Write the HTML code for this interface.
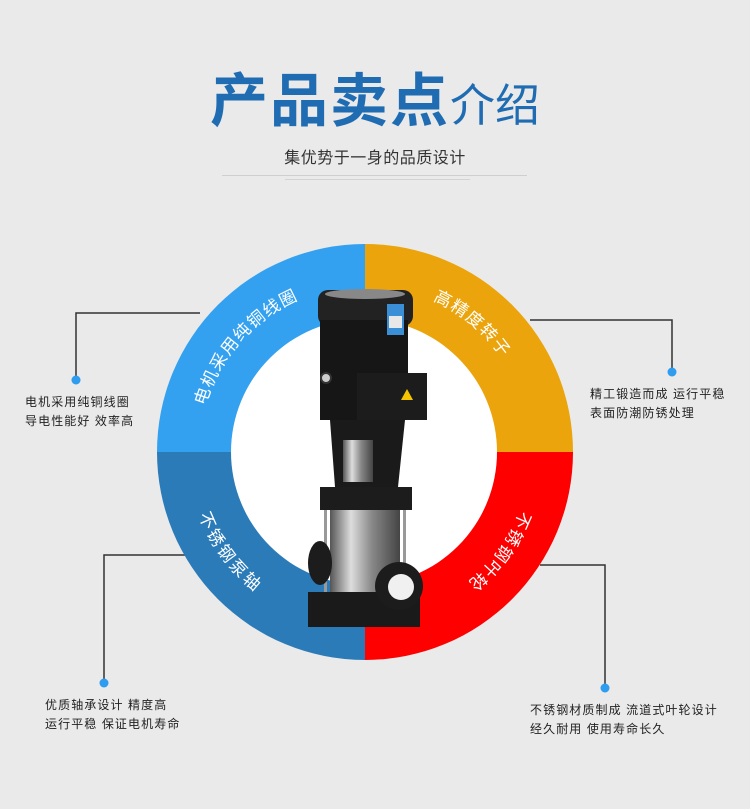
<!DOCTYPE html>
<html><head><meta charset="utf-8"><style>
html,body{margin:0;padding:0}
body{width:750px;height:809px;background:#eaeaea;position:relative;overflow:hidden;font-family:"Liberation Sans","Noto Sans CJK SC",sans-serif}
.t{position:absolute;font-size:12px;letter-spacing:1.1px;line-height:19px;color:#222;white-space:nowrap}
</style></head><body>
<div style="position:absolute;left:0;top:62px;width:750px;text-align:center;color:#1f6cb2;white-space:nowrap;line-height:80px">
<span style="font-size:58px;font-weight:bold;letter-spacing:2px">产品卖点</span><span style="font-size:45px">介绍</span>
</div>
<div style="position:absolute;left:0;top:144px;width:750px;text-align:center;font-size:16px;color:#333;letter-spacing:0.5px">集优势于一身的品质设计</div>
<div style="position:absolute;left:222px;top:175px;width:305px;height:1px;background:#cfcfcf"></div>
<div style="position:absolute;left:285px;top:179px;width:185px;height:1px;background:#d3d3d3"></div>

<svg width="750" height="809" style="position:absolute;left:0;top:0">
<defs>
<path id="p1" d="M201.9,506.6 A172,172 0 0 1 399.3,283.4"/>
<path id="p2" d="M306.2,290.3 A172,172 0 0 1 534.4,481.9"/>
<path id="p3" d="M522.7,383.4 A172,172 0 0 1 345.5,622.8"/>
<path id="p4" d="M207.3,383.4 A172,172 0 0 0 384.5,622.8"/>
<linearGradient id="ss" x1="0" x2="1"><stop offset="0" stop-color="#555"/><stop offset="0.3" stop-color="#ddd"/><stop offset="0.6" stop-color="#888"/><stop offset="1" stop-color="#444"/></linearGradient>
</defs>
<!-- connectors -->
<g stroke="#333" stroke-width="1.5" fill="none">
<polyline points="200,313 76,313 76,378"/>
<polyline points="530,320 672,320 672,370"/>
<polyline points="190,555 104,555 104,681"/>
<polyline points="540,565 605,565 605,686"/>
</g>
<g fill="#2e9cef">
<circle cx="76" cy="380" r="4.5"/><circle cx="672" cy="372" r="4.5"/>
<circle cx="104" cy="683" r="4.5"/><circle cx="605" cy="688" r="4.5"/>
</g>
<!-- ring -->
<path d="M365,452 L157,452 A208,208 0 0 1 365,244 Z" fill="#33a1f0"/>
<path d="M365,452 L365,244 A208,208 0 0 1 573,452 Z" fill="#eba40b"/>
<path d="M365,452 L573,452 A208,208 0 0 1 365,660 Z" fill="#fe0000"/>
<path d="M365,452 L365,660 A208,208 0 0 1 157,452 Z" fill="#2b7bb9"/>
<circle cx="364" cy="452" r="133" fill="#fff"/>
<g fill="#fff" font-size="17" dominant-baseline="central" text-anchor="middle" letter-spacing="2" font-family="Liberation Sans,Noto Sans CJK SC,sans-serif">
<text><textPath href="#p1" startOffset="50%">电机采用纯铜线圈</textPath></text>
<text><textPath href="#p2" startOffset="50%">高精度转子</textPath></text>
<text><textPath href="#p3" startOffset="50%">不锈钢叶轮</textPath></text>
<text><textPath href="#p4" startOffset="50%">不锈钢泵轴</textPath></text>
</g>
<!-- pump -->
<rect x="318" y="290" width="95" height="36" rx="10" fill="#222"/>
<ellipse cx="365" cy="294" rx="40" ry="5" fill="#888"/>
<rect x="320" y="320" width="88" height="100" fill="#161616"/>
<rect x="387" y="304" width="17" height="31" fill="#3a8fd6"/>
<rect x="389" y="316" width="13" height="12" fill="#e8e8e8"/>
<circle cx="326" cy="378" r="5" fill="#ccc" stroke="#333" stroke-width="2"/>
<rect x="357" y="373" width="70" height="47" fill="#1c1c1c"/>
<polygon points="407,389 401,400 413,400" fill="#f5c400"/>
<polygon points="330,420 405,420 398,487 335,487" fill="#1a1a1a"/>
<rect x="343" y="440" width="30" height="42" fill="url(#ss)"/>
<rect x="320" y="487" width="92" height="23" fill="#1c1c1c"/>
<rect x="330" y="510" width="70" height="82" fill="url(#ss)"/>
<rect x="324" y="510" width="3" height="85" fill="#999"/>
<rect x="403" y="510" width="3" height="85" fill="#999"/>
<ellipse cx="320" cy="563" rx="12" ry="22" fill="#1c1c1c"/>
<rect x="308" y="592" width="112" height="35" fill="#1a1a1a"/>
<circle cx="399" cy="586" r="24" fill="#1c1c1c"/>
<circle cx="401" cy="587" r="13" fill="#f0f0f0"/>
</svg>

<div class="t" style="left:25px;top:393px">电机采用纯铜线圈<br>导电性能好 效率高</div>
<div class="t" style="left:590px;top:385px">精工锻造而成 运行平稳<br>表面防潮防锈处理</div>
<div class="t" style="left:45px;top:696px">优质轴承设计 精度高<br>运行平稳 保证电机寿命</div>
<div class="t" style="left:530px;top:701px">不锈钢材质制成 流道式叶轮设计<br>经久耐用 使用寿命长久</div>
</body></html>
